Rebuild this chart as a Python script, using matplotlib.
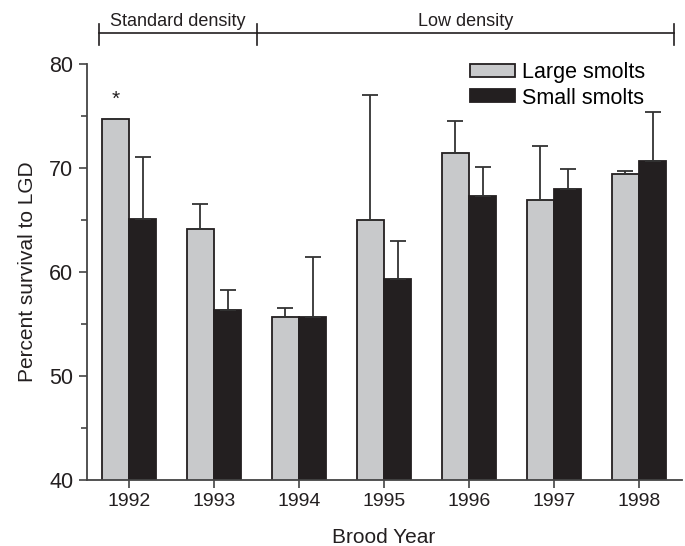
import numpy as np
import matplotlib.pyplot as plt

years = ['1992', '1993', '1994', '1995', '1996', '1997', '1998']
large = [74.7, 64.1, 55.7, 65.0, 71.4, 66.9, 69.4]
large_top = [74.7, 66.5, 56.5, 77.05, 74.5, 72.1, 69.7]
small = [65.1, 56.3, 55.7, 59.3, 67.3, 67.95, 70.7]
small_top = [71.1, 58.3, 61.4, 63.0, 70.1, 69.9, 75.4]

# density groups: (label, start, end) in category units
groups = [('Standard density', -0.35, 1.5), ('Low density', 1.5, 6.41)]

plt.rcParams['font.family'] = ['Liberation Sans', 'DejaVu Sans']

fig = plt.figure(figsize=(6.85, 5.46), dpi=100)
ax = fig.add_axes([0.1263, 0.1209, 0.8686, 0.7619])

x = np.arange(len(years))
w = 0.32
large_err = np.array(large_top) - np.array(large)
small_err = np.array(small_top) - np.array(small)
ekw = dict(ecolor='#333333', elinewidth=1.3, capsize=6, capthick=1.3)

ax.bar(x - w / 2, large, w, bottom=0, color='#c8c9cb', edgecolor='#231f20',
       linewidth=1.3, label='Large smolts',
       yerr=[np.zeros(len(x)), large_err], error_kw=ekw)
ax.bar(x + w / 2, small, w, bottom=0, color='#231f20', edgecolor='#231f20',
       linewidth=1.3, label='Small smolts',
       yerr=[np.zeros(len(x)), small_err], error_kw=ekw)

# significance mark
ax.text(x[0] - w / 2, large[0] + 1.0, '*', ha='center', va='bottom',
        fontsize=15, color='#231f20')

ax.set_xlim(-0.5, 6.5)
ax.set_ylim(40, 80)
ax.set_xticks(x)
ax.set_xticklabels(years)
ax.set_yticks([40, 50, 60, 70, 80])
ax.set_yticks([45, 55, 65, 75], minor=True)
ax.tick_params(axis='both', which='major', length=6, width=1.2,
               color='#444444', labelcolor='#231f20')
ax.tick_params(axis='x', labelsize=14)
ax.tick_params(axis='y', labelsize=15.5)
ax.tick_params(axis='y', which='minor', length=4, width=1.2, color='#444444')
for s in ['top', 'right']:
    ax.spines[s].set_visible(False)
for s in ['left', 'bottom']:
    ax.spines[s].set_color('#444444')
    ax.spines[s].set_linewidth(1.3)

ax.set_xlabel('Brood Year', fontsize=15, color='#231f20', labelpad=13)
ax.set_ylabel('Percent survival to LGD', fontsize=15, color='#231f20', labelpad=9)

ax.legend(loc='upper left', bbox_to_anchor=(0.626, 1.03), frameon=False,
          fontsize=15.5, handlelength=2.1, handleheight=0.55, borderpad=0,
          handletextpad=0.35, labelspacing=0.2)

# density bracket above the plot
yb = 83.0
for label, a, b in groups:
    ax.plot([a, b], [yb, yb], color='#231f20', lw=1.2, clip_on=False)
    ax.text((a + b) / 2, yb + 0.3, label, ha='center', va='bottom',
            fontsize=13, color='#231f20', clip_on=False)
edges = sorted(set([g[1] for g in groups] + [g[2] for g in groups]))
for e in edges:
    ax.plot([e, e], [yb - 1.2, yb + 0.8], color='#231f20', lw=1.2, clip_on=False)

fig.savefig('out.png', dpi=100)
